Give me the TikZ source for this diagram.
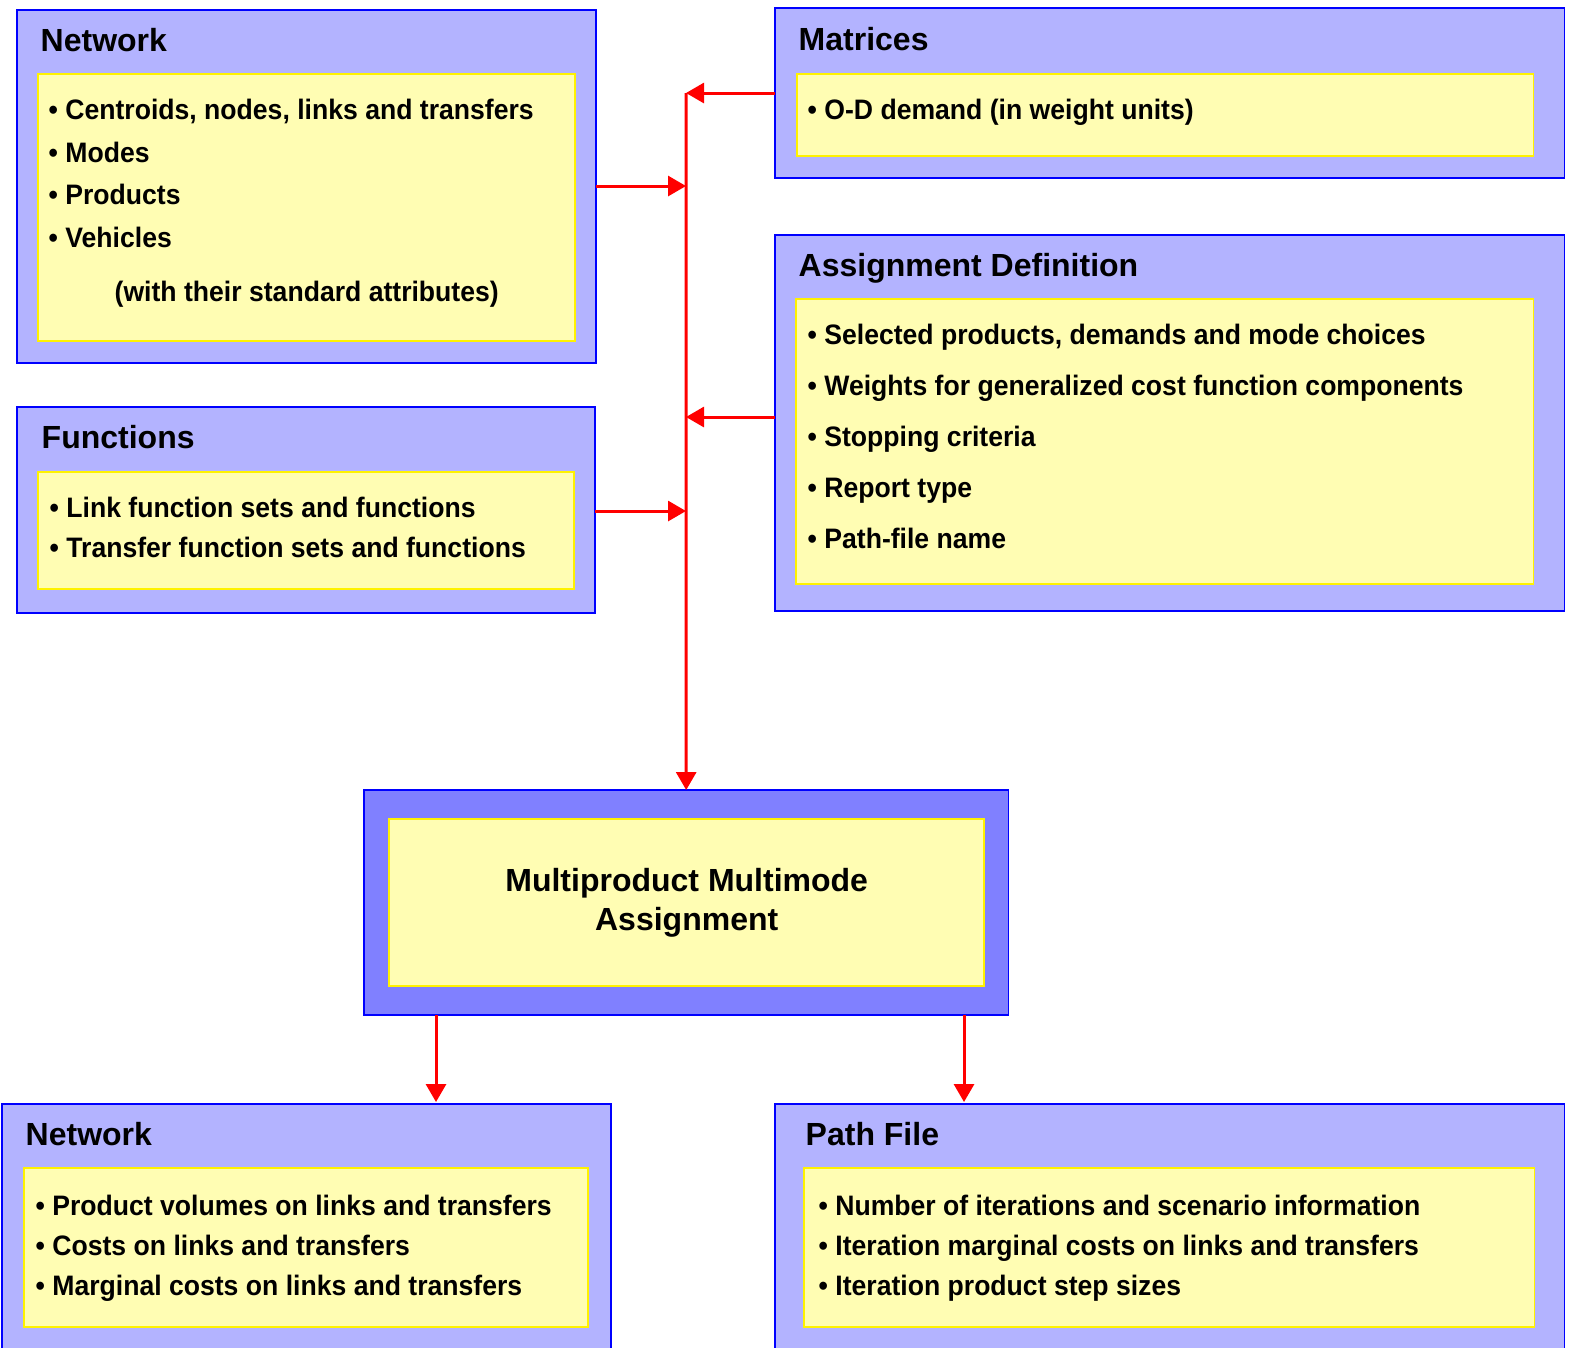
\documentclass[tikz,border=0pt]{standalone}
\usepackage{fontspec}
\setmainfont{Liberation Sans}
\newfontfamily\itemfont{Liberation Sans}[FakeStretch=0.945]
\usetikzlibrary{arrows.meta}

\definecolor{lav}{RGB}{179,179,255}
\definecolor{lavdark}{RGB}{128,128,255}
\definecolor{paleyel}{RGB}{255,253,179}

\tikzset{
  outerbox/.style={draw=blue, fill=lav, line width=0.5pt, anchor=north west, inner sep=0pt, outer sep=0pt},
  innerbox/.style={draw=yellow, fill=paleyel, line width=0.5pt, anchor=north west, inner sep=0pt, outer sep=0pt},
  title/.style={anchor=base west, inner sep=0pt, font=\fontsize{9.1}{11}\selectfont\bfseries},
  item/.style={anchor=base west, inner sep=0pt, font=\itemfont\fontsize{8}{10}\selectfont\bfseries},
  wire/.style={red, line width=0.85pt, -{Triangle[length=0.18cm, width=0.2cm]}}
}

\begin{document}
\begin{tikzpicture}[x=0.01cm, y=-0.01cm]
  \useasboundingbox (0,0) rectangle (1574,1347);

  % input boxes
  \node[outerbox, minimum width=5.79cm, minimum height=3.53cm] (net) at (17,10) {};
  \node[innerbox, minimum width=5.37cm, minimum height=2.67cm] (netin) at (38,74) {};
  \node[outerbox, minimum width=7.89cm, minimum height=1.70cm] (mat) at (775,8) {};
  \node[innerbox, minimum width=7.36cm, minimum height=0.82cm] (matin) at (797,74) {};
  \node[outerbox, minimum width=7.89cm, minimum height=3.76cm] (asg) at (775,235) {};
  \node[innerbox, minimum width=7.37cm, minimum height=2.85cm] (asgin) at (796,299) {};
  \node[outerbox, minimum width=5.78cm, minimum height=2.06cm] (fun) at (17,407) {};
  \node[innerbox, minimum width=5.36cm, minimum height=1.17cm] (funin) at (38,472) {};

  % assignment
  \node[outerbox, fill=lavdark, minimum width=6.44cm, minimum height=2.25cm] (core) at (364,790) {};
  \node[innerbox, minimum width=5.95cm, minimum height=1.67cm] (corein) at (389,819) {};

  % output boxes
  \node[outerbox, minimum width=6.09cm, minimum height=2.55cm] (netout) at (2,1104) {};
  \node[innerbox, minimum width=5.64cm, minimum height=1.59cm] (netoutin) at (24,1168) {};
  \node[outerbox, minimum width=7.89cm, minimum height=2.55cm] (path) at (775,1104) {};
  \node[innerbox, minimum width=7.30cm, minimum height=1.59cm] (pathin) at (804,1168) {};

  % texts
  \node[title] (netT) at (40,51) {Network};
  \node[item] (net1) at (48,119) {• Centroids, nodes, links and transfers};
  \node[item] (net2) at (48,162) {• Modes};
  \node[item] (net3) at (48,204) {• Products};
  \node[item] (net4) at (48,247) {• Vehicles};
  \node[item] (net5) at (114,301) {(with their standard attributes)};

  \node[title] (matT) at (798,50) {Matrices};
  \node[item] (mat1) at (807,119) {• O-D demand (in weight units)};

  \node[title] (asgT) at (798,276) {Assignment Definition};
  \node[item] (asg1) at (807,344) {• Selected products, demands and mode choices};
  \node[item] (asg2) at (807,395) {• Weights for generalized cost function components};
  \node[item] (asg3) at (807,446) {• Stopping criteria};
  \node[item] (asg4) at (807,497) {• Report type};
  \node[item] (asg5) at (807,548) {• Path-file name};

  \node[title] (funT) at (41,448) {Functions};
  \node[item] (fun1) at (49,517) {• Link function sets and functions};
  \node[item] (fun2) at (49,557) {• Transfer function sets and functions};

  \node[align=center, inner sep=0pt, font=\fontsize{9.1}{11.2}\selectfont\bfseries] (coreT) at (corein.center)
    {Multiproduct Multimode\\Assignment};

  \node[title] (netoutT) at (25,1145) {Network};
  \node[item] (out1) at (35,1215) {• Product volumes on links and transfers};
  \node[item] (out2) at (35,1255) {• Costs on links and transfers};
  \node[item] (out3) at (35,1295) {• Marginal costs on links and transfers};

  \node[title] (pathT) at (805,1145) {Path File};
  \node[item] (path1) at (818,1215) {• Number of iterations and scenario information};
  \node[item] (path2) at (818,1255) {• Iteration marginal costs on links and transfers};
  \node[item] (path3) at (818,1295) {• Iteration product step sizes};

  % connectors
  \coordinate (jmat) at (686,93);
  \coordinate (jnet) at (686,186);
  \coordinate (jasg) at (686,417);
  \coordinate (jfun) at (686,511);
  \coordinate (o1) at (436,1102);
  \coordinate (o2) at (964,1102);
  \draw[wire] (mat.west |- jmat) -- (jmat);
  \draw[wire] (net.east |- jnet) -- (jnet);
  \draw[wire] (asg.west |- jasg) -- (jasg);
  \draw[wire] (fun.east |- jfun) -- (jfun);
  \draw[wire] (jmat) -- (core.north);
  \draw[wire] (core.south -| o1) -- (o1);
  \draw[wire] (core.south -| o2) -- (o2);
\end{tikzpicture}
\end{document}
